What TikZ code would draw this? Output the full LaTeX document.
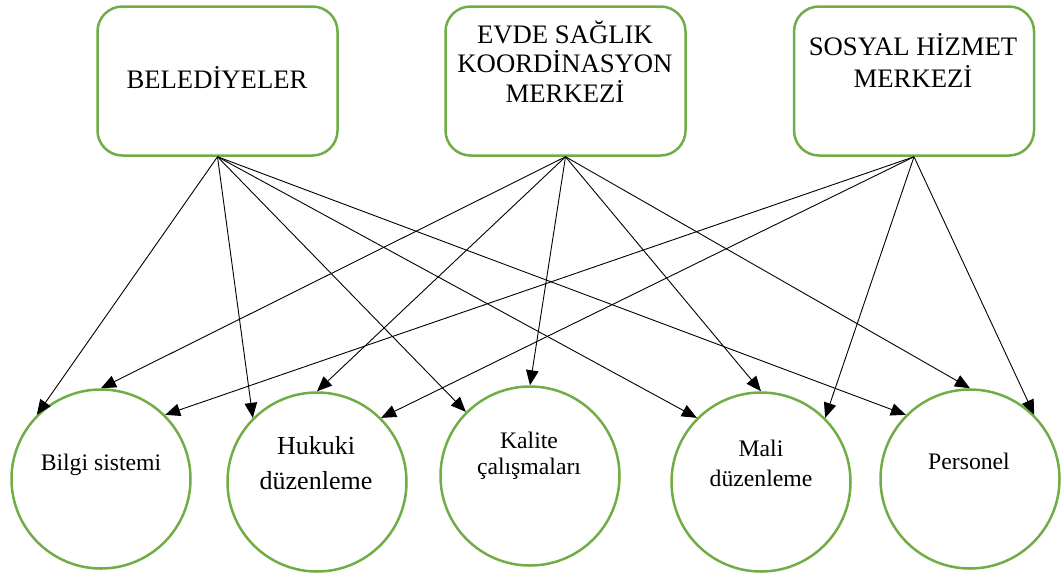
\documentclass[tikz,border=0pt]{standalone}
\usepackage{fontspec}
\setmainfont{Liberation Serif}
\usetikzlibrary{arrows.meta}
\definecolor{grn}{HTML}{70AD47}
\begin{document}
\begin{tikzpicture}[x=1pt,y=-1pt,
  box/.style={draw=grn, line width=2.5pt, rounded corners=25pt, minimum width=240pt, minimum height=149pt, inner sep=0pt},
  circ/.style={draw=grn, line width=2.5pt, circle, minimum size=179pt, inner sep=0pt},
  boxtext/.style={font=\fontsize{26.7}{29.5}\selectfont, align=center, anchor=base, inner sep=0pt},
  ctext/.style={font=\fontsize{23.7}{30}\selectfont, align=center, anchor=base, inner sep=0pt},
  arr/.style={-{Triangle[length=15pt,width=12.5pt]}, line width=0.9pt, draw=black}]
\useasboundingbox (0,0) rectangle (1062,574);
% boxes
\node[box] (b1) at (217.5,81) {};
\node[box] (b2) at (565.5,81) {};
\node[box] (b3) at (914,81) {};
\node[boxtext] (t1) at (217,88) {BELEDİYELER};
\node[boxtext] (t2) at (565,102) {EVDE SAĞLIK\\KOORDİNASYON\\MERKEZİ};
\node[boxtext, font=\fontsize{26.7}{32}\selectfont] (t3) at (913,87) {SOSYAL HİZMET\\MERKEZİ};
% circles
\node[circ] (c1) at (101,479) {};
\node[circ] (c2) at (317,482) {};
\node[circ] (c3) at (530,476) {};
\node[circ] (c4) at (761,482) {};
\node[circ] (c5) at (970,479) {};
\node[ctext] (u1) at (101,470) {Bilgi sistemi};
\node[ctext, font=\fontsize{26}{35}\selectfont] (u2) at (316,489) {Hukuki\\düzenleme};
\node[ctext, font=\fontsize{23.7}{26}\selectfont] (u3) at (529,474) {Kalite\\çalışmaları};
\node[ctext] (u4) at (761,486) {Mali\\düzenleme};
\node[ctext] (u5) at (969,469) {Personel};
% arrows
\foreach \c in {c1,c2,c3,c4,c5} {
  \draw[arr] (b1.south) -- (\c.135);
  \draw[arr] (b2.south) -- (\c.90);
}
\foreach \c in {c1,c2,c4,c5} {
  \draw[arr] (b3.south) -- (\c.45);
}
\end{tikzpicture}
\end{document}
